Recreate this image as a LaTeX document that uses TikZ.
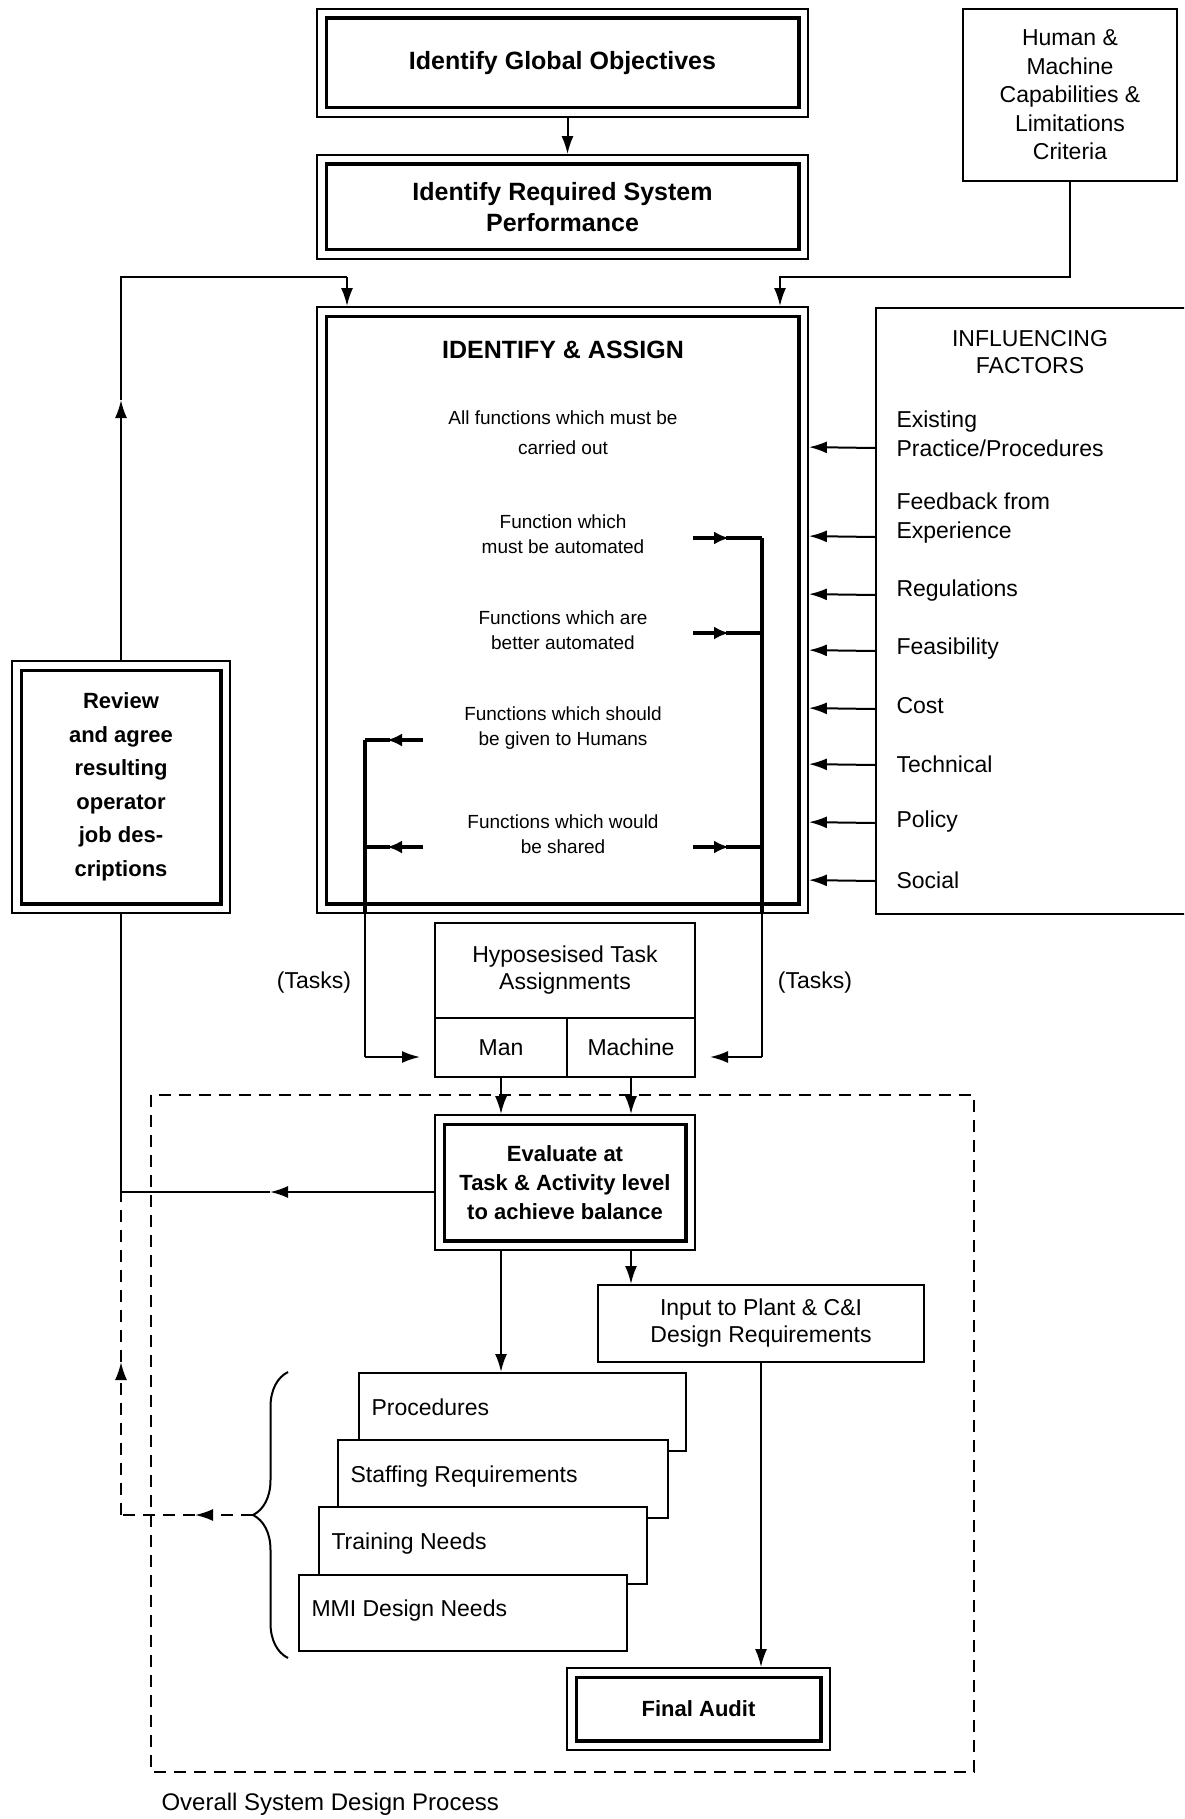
\documentclass[tikz,border=0pt]{standalone}
\usepackage{fontspec}
\setmainfont{Liberation Sans}
\usetikzlibrary{arrows.meta,calc,decorations.pathreplacing}

\begin{document}
\begin{tikzpicture}[x=1pt,y=-1pt,
  every node/.style={font=\fontsize{23}{28}\selectfont},
  plainbox/.style={draw,line width=2pt,inner sep=0pt,align=center,fill=white},
  dblbox/.style={draw,line width=1.8pt,inner sep=0pt,align=center,fill=white,
                 font=\fontsize{25}{31}\selectfont\bfseries},
  innerline/.style={line width=3.2pt},
  conn/.style={line width=2pt},
  arr/.style={conn,-{Latex[length=18pt,width=12pt]}},
  heavy/.style={line width=3.4pt},
  heavyarr/.style={heavy,-{Latex[length=15pt,width=13pt]}},
  dashline/.style={conn,dash pattern=on 12pt off 8pt},
  dasharr/.style={dashline,-{Latex[length=18pt,width=12pt]}},
  fntext/.style={align=center,font=\fontsize{19}{25}\selectfont},
  factor/.style={anchor=west,align=left,font=\fontsize{23}{29}\selectfont},
  stacktext/.style={anchor=base west,font=\fontsize{23}{28}\selectfont}
]
\useasboundingbox (0,0) rectangle (1184,1819);
\fill[white] (0,0) rectangle (1184,1819);
\clip (0,0) rectangle (1184,1819);

% ---------- top of the process ----------
\node[dblbox, minimum width=491pt, minimum height=108pt] (glob) at (562.5,63)
  {Identify Global Objectives};
\node[dblbox, minimum width=491pt, minimum height=104pt] (perf) at (562.5,207)
  {Identify Required System\\Performance};
\node[plainbox, minimum width=214pt, minimum height=172pt,
      font=\fontsize{23}{28.5}\selectfont] (human) at (1070,95)
  {Human \&\\Machine\\Capabilities \&\\Limitations\\Criteria};

% ---------- identify & assign ----------
\node[dblbox, minimum width=491pt, minimum height=606pt] (ident) at (562.5,610) {};
\node[font=\fontsize{25}{30}\selectfont\bfseries] (title) at (563,350) {IDENTIFY \& ASSIGN};
\node[fntext, font=\fontsize{19}{30}\selectfont] (f0) at (563,433) {All functions which must be\\carried out};
\node[fntext] (f1) at (563,534) {Function which\\must be automated};
\node[fntext] (f2) at (563,630) {Functions which are\\better automated};
\node[fntext] (f3) at (563,728) {Functions which should\\be given to Humans};
\node[fntext] (f4) at (563,834) {Functions which would\\be shared};

% ---------- influencing factors ----------
\node[plainbox, minimum width=330pt, minimum height=606pt, anchor=north west] (infl) at (875,307) {};
\node[align=center, font=\fontsize{23}{27}\selectfont] (inftitle) at (1030,352) {INFLUENCING\\FACTORS};
\node[factor] (fa1) at (893,433.5) {Existing\\Practice/Procedures};
\node[factor] (fa2) at (893,518.5) {Feedback from\\Experience};
\node[factor] (fa3) at (893,591) {Regulations};
\node[factor] (fa4) at (893,649) {Feasibility};
\node[factor] (fa5) at (893,706) {Cost};
\node[factor] (fa6) at (893,764) {Technical};
\node[factor] (fa7) at (893,822) {Policy};
\node[factor] (fa8) at (893,880) {Social};

% ---------- review box ----------
\node[dblbox, minimum width=218pt, minimum height=252pt,
      font=\fontsize{22}{33.5}\selectfont\bfseries] (review) at (121,787)
  {Review\\and agree\\resulting\\operator\\job des-\\criptions};

% ---------- task assignment ----------
\node[plainbox, minimum width=260pt, minimum height=95pt, font=\fontsize{23}{27}\selectfont] (hyp) at (565,970.5)
  {Hyposesised Task\\Assignments};
\node[plainbox, minimum width=132pt, minimum height=59pt] (man) at (501,1047.5) {Man};
\node[plainbox, minimum width=128pt, minimum height=59pt] (mach) at (631,1047.5) {Machine};
\node (tl) at (314,983) {(Tasks)};
\node (tr) at (815,983) {(Tasks)};

% ---------- overall system design process ----------
\draw[dashline] (151,1095) rectangle (974,1772);
\node[anchor=west, font=\fontsize{24}{28}\selectfont] (caption) at (158,1804) {Overall System Design Process};

\node[dblbox, minimum width=260pt, minimum height=135pt,
      font=\fontsize{22}{29}\selectfont\bfseries] (eval) at (565,1182.5)
  {Evaluate at\\Task \& Activity level\\to achieve balance};
\node[plainbox, minimum width=326pt, minimum height=77pt, font=\fontsize{23}{27}\selectfont] (input) at (761,1323.5)
  {Input to Plant \& C\&I\\Design Requirements};
\node[dblbox, minimum width=263pt, minimum height=82pt,
      font=\fontsize{22}{28}\selectfont\bfseries] (audit) at (698.5,1709) {Final Audit};

% stacked output sheets
\node[plainbox, minimum width=327pt, minimum height=78pt, anchor=north west] (proc) at (358,1372) {};
\node[stacktext] (proct) at (368,1415) {Procedures};
\node[plainbox, minimum width=330pt, minimum height=78pt, anchor=north west] (staff) at (337,1439) {};
\node[stacktext] (stafft) at (347,1482) {Staffing Requirements};
\node[plainbox, minimum width=328pt, minimum height=77pt, anchor=north west] (train) at (318,1506) {};
\node[stacktext] (traint) at (328,1549) {Training Needs};
\node[plainbox, minimum width=328pt, minimum height=76pt, anchor=north west] (mmi) at (298,1574) {};
\node[stacktext] (mmit) at (308,1616) {MMI Design Needs};

% inner rules of the double boxes
\foreach \n in {glob,perf,ident,review,eval,audit}
  \draw[innerline] ($(\n.north west)+(10,10)$) rectangle ($(\n.south east)+(-10,-10)$);

% ---------- connectors ----------
\draw[arr] ([xshift=5pt]glob.south) -- ([xshift=5pt]perf.north);

\coordinate (hturn) at (780,277);
\draw[arr] (human.south) |- (hturn) -- (hturn |- ident.north);

\coordinate (rup) at (121,400);
\coordinate (lturn) at (347,277);
\draw[arr] (review.north) -- (rup);
\draw[conn] (rup) |- (lturn);
\draw[arr] (lturn) -- (lturn |- ident.north);

% influencing factors into the assignment box
\foreach \y in {448,537,595,651,709,765,823,881}
  \draw[arr] ($(infl.north west)+(0,\y-307)$) -- ($(ident.north east)+(0,\y-307)$);

% machine side
\coordinate (r1) at (693,538);
\coordinate (r2) at (693,633);
\coordinate (r4) at (693,847);
\coordinate (rtop) at (762,538);
\coordinate (rbox) at (762,913);
\coordinate (rbot) at (762,1057);
\coordinate (machin) at (710,1057);
\foreach \c in {r1,r2,r4} {
  \draw[heavyarr] (\c) -- ($(\c)+(36,0)$);
  \draw[heavy] ($(\c)+(33,0)$) -- (\c -| rtop);
}
\draw[heavy] (rtop) -- (rbox);
\draw[conn] (rbox) -- (rbot);
\draw[arr] (rbot) -- (machin);

% human side
\coordinate (l3) at (423,740);
\coordinate (l4) at (423,847);
\coordinate (ltop) at (365,740);
\coordinate (lbox) at (365,913);
\coordinate (lbot) at (365,1057);
\coordinate (manin) at (420,1057);
\foreach \c in {l3,l4} {
  \draw[heavyarr] (\c) -- ($(\c)+(-36,0)$);
  \draw[heavy] ($(\c)+(-33,0)$) -- (\c -| ltop);
}
\draw[heavy] (ltop) -- (lbox);
\draw[conn] (lbox) -- (lbot);
\draw[arr] (lbot) -- (manin);

% assignments into evaluation
\draw[arr] (man.south) -- (man.south |- eval.north);
\draw[arr] (mach.south) -- (mach.south |- eval.north);
\draw[arr] (man.south |- eval.south) -- (man.south |- proc.north);
\draw[arr] (mach.south |- eval.south) -- (mach.south |- input.north);
\draw[arr] (input.south) -- (input.south |- audit.north);

% evaluation feeds back to the review
\coordinate (evout) at (435,1192);
\coordinate (evmid) at (270,1192);
\coordinate (fb) at (121,1192);
\draw[arr] (evout) -- (evmid);
\draw[conn] (evmid) -- (fb) -- (review.south);

% brace over the sheets and dashed feedback
\draw[conn, decorate, decoration={brace, amplitude=35pt}] (288,1658) -- (288,1372);
\coordinate (btip) at (253,1515);
\coordinate (bmid) at (195,1515);
\coordinate (bcorner) at (121,1515);
\coordinate (bup) at (121,1362);
\draw[dasharr] (btip) -- (bmid);
\draw[dashline] (bmid) -- (bcorner);
\draw[dasharr] (bcorner) -- (bup);
\draw[dashline] (bup) -- (fb);
\end{tikzpicture}
\end{document}
